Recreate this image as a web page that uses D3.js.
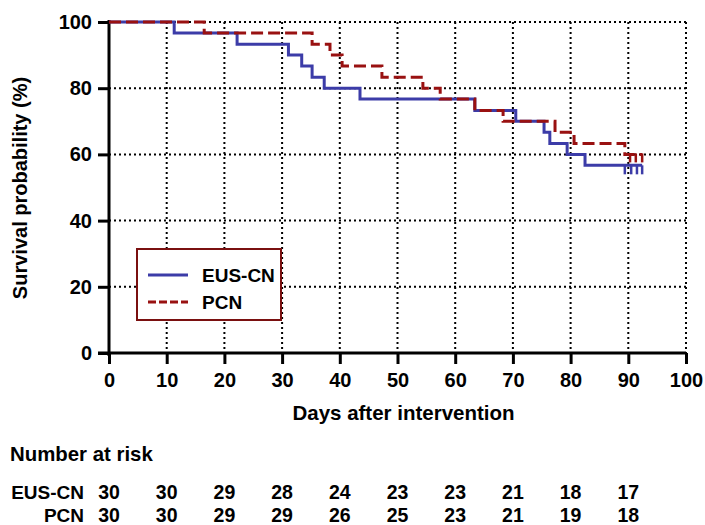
<!DOCTYPE html>
<html>
<head>
<meta charset="utf-8">
<script src="https://cdn.jsdelivr.net/npm/d3@7"></script>
<style>
  body { margin: 0; background: #fff; }
  svg text { font-family: "Liberation Sans", Arial, sans-serif; font-weight: bold; fill: #000; }
</style>
</head>
<body>
<svg id="chart"></svg>
<script>
// survival steps (day, %)
let eusDays = [0, 11.3, 22.2, 31.1, 33.4, 35.2, 37.3, 43.5, 63.4, 70.5, 75.4, 76.4, 79.4, 82.5, 92.4]
let eusSurv = [100, 96.7, 93.3, 90, 86.7, 83.3, 80, 76.7, 73.3, 70, 66.7, 63.3, 60, 56.7, 56.7]
let pcnDays = [0, 16.5, 35.2, 38.3, 40.4, 47.3, 54.4, 57.4, 63.4, 68.3, 77.3, 80.6, 89.4, 92.4]
let pcnSurv = [100, 96.7, 93.3, 90, 86.7, 83.3, 80, 76.7, 73.3, 70, 66.7, 63.3, 60, 60]

// censored observations
let eusCensor = [89.4, 90.5, 91.5, 92.4]
let pcnCensor = [90.3, 91.3, 92.4]

let xTicks = [0, 10, 20, 30, 40, 50, 60, 70, 80, 90, 100]
let yTicks = [0, 20, 40, 60, 80, 100]

let riskDays = [0, 10, 20, 30, 40, 50, 60, 70, 80, 90]
let eusRisk = [30, 30, 29, 28, 24, 23, 23, 21, 18, 17]
let pcnRisk = [30, 30, 29, 29, 26, 25, 23, 21, 19, 18]

let width = 705
let height = 525
let padLeft = 109
let padRight = 686
let padTop = 22
let padBottom = 353

let blue = '#3c3ca8'
let red = '#991111'

let svg = d3.select('#chart').attr('width', width).attr('height', height)

let xScale = d3.scaleLinear().domain([0, 100]).range([padLeft, padRight])
let yScale = d3.scaleLinear().domain([0, 100]).range([padBottom, padTop])

// dotted grid
svg.append('g')
  .selectAll('line')
  .data(xTicks.slice(1))
  .join('line')
  .attr('x1', d => xScale(d)).attr('x2', d => xScale(d))
  .attr('y1', padTop).attr('y2', padBottom)
  .attr('stroke', '#000').attr('stroke-width', 2).attr('stroke-dasharray', '2,3')

svg.append('g')
  .selectAll('line')
  .data(yTicks.slice(1))
  .join('line')
  .attr('x1', padLeft).attr('x2', padRight)
  .attr('y1', d => yScale(d)).attr('y2', d => yScale(d))
  .attr('stroke', '#000').attr('stroke-width', 2).attr('stroke-dasharray', '2,3')

// axes
let xAxis = d3.axisBottom(xScale).tickValues(xTicks).tickSize(11).tickPadding(9).tickSizeOuter(0)
let yAxis = d3.axisLeft(yScale).tickValues(yTicks).tickSize(11).tickPadding(6).tickSizeOuter(0)

let gx = svg.append('g').attr('transform', 'translate(0,' + padBottom + ')').call(xAxis)
gx.attr('font-family', null).attr('font-size', 20)
gx.select('.domain').attr('stroke-width', 3).attr('d', 'M' + (padLeft - 11) + ',0H' + padRight)
gx.selectAll('.tick line').attr('stroke-width', 3)

let gy = svg.append('g').attr('transform', 'translate(' + padLeft + ',0)').call(yAxis)
gy.attr('font-family', null).attr('font-size', 20)
gy.select('.domain').attr('stroke-width', 3).attr('d', 'M0,' + (padTop - 2) + 'V' + (padBottom + 3))
gy.selectAll('.tick line').attr('stroke-width', 3)

svg.append('text')
  .attr('x', (padLeft + padRight) / 2 + 6).attr('y', 420)
  .attr('text-anchor', 'middle').attr('font-size', 20.5)
  .text('Days after intervention')

svg.append('text')
  .attr('transform', 'translate(27,188) rotate(-90)')
  .attr('text-anchor', 'middle').attr('font-size', 20)
  .text('Survival probability (%)')

// curves
let line = d3.line()
  .x(d => xScale(d[0]))
  .y(d => yScale(d[1]))
  .curve(d3.curveStepAfter)

svg.append('path')
  .datum(d3.zip(eusDays, eusSurv))
  .attr('d', line)
  .attr('fill', 'none').attr('stroke', blue).attr('stroke-width', 3)

svg.append('path')
  .datum(d3.zip(pcnDays, pcnSurv))
  .attr('d', line)
  .attr('fill', 'none').attr('stroke', red).attr('stroke-width', 3)
  .attr('stroke-dasharray', '12,5')

svg.append('g')
  .selectAll('line')
  .data(eusCensor)
  .join('line')
  .attr('x1', d => xScale(d)).attr('x2', d => xScale(d))
  .attr('y1', yScale(56.7)).attr('y2', yScale(56.7) + 9)
  .attr('stroke', blue).attr('stroke-width', 2.5)

svg.append('g')
  .selectAll('line')
  .data(pcnCensor)
  .join('line')
  .attr('x1', d => xScale(d)).attr('x2', d => xScale(d))
  .attr('y1', yScale(60) - 1).attr('y2', yScale(60) + 8)
  .attr('stroke', red).attr('stroke-width', 2.5)

// legend
let legend = svg.append('g').attr('transform', 'translate(137,249)')
legend.append('rect')
  .attr('width', 144).attr('height', 71)
  .attr('fill', '#fff').attr('stroke', '#7a1010').attr('stroke-width', 2)

let legendItems = [
  { name: 'EUS-CN', color: blue, dash: null },
  { name: 'PCN', color: red, dash: '8,3' }
]
legendItems.forEach((item, i) => {
  let y = 26 + i * 27
  legend.append('line')
    .attr('x1', 11).attr('x2', 51).attr('y1', y).attr('y2', y)
    .attr('stroke', item.color).attr('stroke-width', 3)
    .attr('stroke-dasharray', item.dash)
  legend.append('text')
    .attr('x', 65).attr('y', y + 7)
    .attr('font-size', 19)
    .text(item.name)
})

// number at risk table, columns line up with the x axis ticks
svg.append('text')
  .attr('x', 10).attr('y', 461)
  .attr('font-size', 20.4).text('Number at risk')

let riskRows = [
  { name: 'EUS-CN', values: eusRisk, y: 499 },
  { name: 'PCN', values: pcnRisk, y: 522 }
]
riskRows.forEach(row => {
  svg.append('text')
    .attr('x', 84).attr('y', row.y)
    .attr('text-anchor', 'end')
    .attr('font-size', 19).text(row.name)
  svg.append('g')
    .selectAll('text')
    .data(row.values)
    .join('text')
    .attr('x', (d, i) => xScale(riskDays[i]))
    .attr('y', row.y)
    .attr('text-anchor', 'middle')
    .attr('font-size', 19.5)
    .text(d => d)
})
</script>
</body>
</html>
